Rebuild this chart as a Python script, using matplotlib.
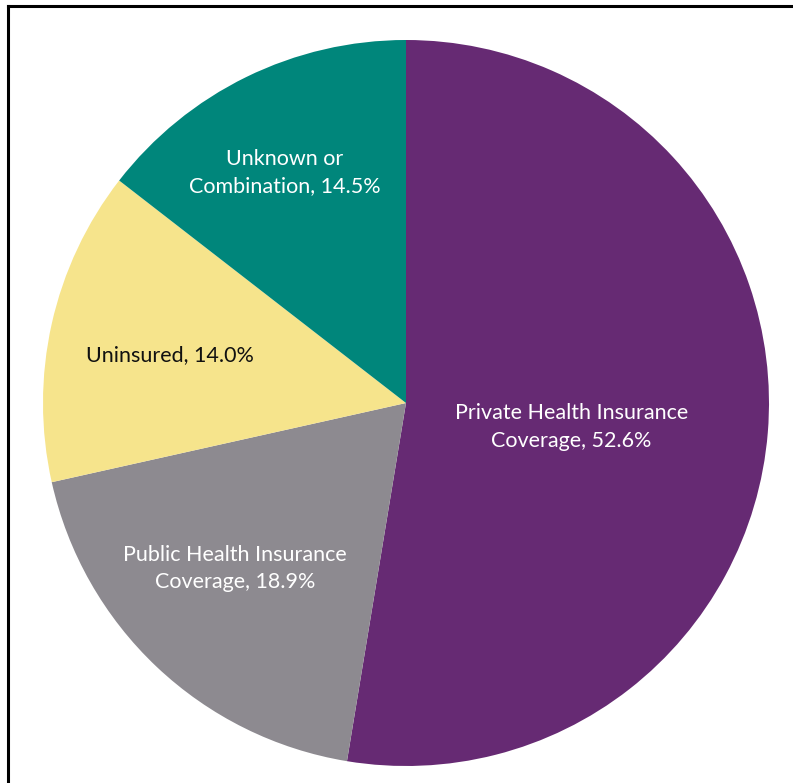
import matplotlib.pyplot as plt
from matplotlib.lines import Line2D

plt.rcParams['font.family'] = ['Lato', 'DejaVu Sans']

# Health insurance coverage shares, clockwise from 12 o'clock
categories = ['Private Health Insurance\nCoverage', 'Public Health Insurance\nCoverage',
              'Uninsured', 'Unknown or\nCombination']
shares = [52.6, 18.9, 14.0, 14.5]
colors = ['#662A73', '#8D8A90', '#F6E48C', '#00867B']
text_colors = ['white', 'white', '#111111', 'white']
# label centres in pie units (radius = 1)
label_pos = [(0.455, -0.066), (-0.471, -0.457), (-0.650, 0.132), (-0.333, 0.636)]

W, H = 793, 783
fig = plt.figure(figsize=(W / 100, H / 100), dpi=100)
cx, cy, r = 406, 403, 363
ax = fig.add_axes([(cx - r) / W, (H - cy - r) / H, 2 * r / W, 2 * r / H])

ax.pie(shares, colors=colors, startangle=90, counterclock=False,
       wedgeprops=dict(linewidth=0))
ax.set_xlim(-1, 1)
ax.set_ylim(-1, 1)
ax.set_aspect('equal')
ax.axis('off')

for name, val, (x, y), tc in zip(categories, shares, label_pos, text_colors):
    ax.text(x, y, f'{name}, {val:.1f}%', ha='center', va='center',
            fontsize=15.5, color=tc, linespacing=1.45)

# frame along the top and left edges
fig.add_artist(Line2D([8 / W, 8 / W], [0, 1 - 6 / H], transform=fig.transFigure,
                      color='black', lw=2.2))
fig.add_artist(Line2D([8 / W, 1], [1 - 6 / H, 1 - 6 / H], transform=fig.transFigure,
                      color='black', lw=2.2))

fig.savefig('out.png', dpi=100, facecolor='white')
plt.close(fig)
